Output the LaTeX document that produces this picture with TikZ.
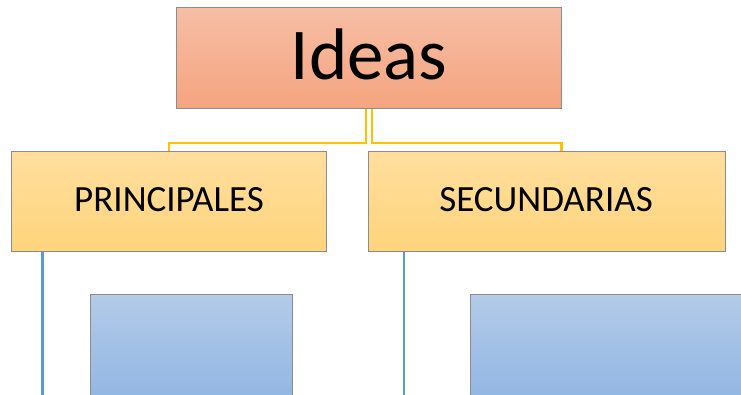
\documentclass[tikz,border=0pt]{standalone}
\usepackage{fontspec}
\setmainfont{Carlito}
\definecolor{idtop}{HTML}{F6BEA6}
\definecolor{idbot}{HTML}{F5A47F}
\definecolor{ytop}{HTML}{FFDE9E}
\definecolor{ybot}{HTML}{FED47C}
\definecolor{btop}{HTML}{B3CBE8}
\definecolor{bbot}{HTML}{8DB3E2}
\definecolor{conny}{HTML}{FFC000}
\definecolor{connb}{HTML}{5B9BD5}
\definecolor{edge}{HTML}{8C8C8C}
\tikzset{
  box/.style={draw=edge, line width=1pt, inner sep=0pt, anchor=north west},
  ideabox/.style={box, top color=idtop, bottom color=idbot, minimum width=385pt, minimum height=101pt},
  catbox/.style={box, top color=ytop, bottom color=ybot, minimum width=357pt, minimum height=100pt},
  subbox/.style={box, top color=btop, bottom color=bbot, minimum width=202pt, minimum height=120pt},
  bigtext/.style={font=\fontsize{73}{73}\selectfont, anchor=base, inner sep=0pt},
  cattext/.style={font=\fontsize{37}{37}\selectfont, anchor=base, inner sep=0pt},
  yline/.style={draw=conny, line width=2.6pt},
  bline/.style={draw=connb, line width=2.6pt},
}
\begin{document}
\begin{tikzpicture}[x=1pt,y=-1pt]
\useasboundingbox (0,0) rectangle (741,395);
\clip (0,0) rectangle (741,395);
\node[ideabox] (ideas) at (176,7) {};
\node[bigtext] (ideast) at (369,80) {Ideas};
\node[catbox, minimum width=315pt] (prin) at (11,151) {};
\node[cattext] (print) at (169,211.5) {PRINCIPALES};
\node[catbox] (sec) at (368,151) {};
\node[cattext] (sect) at (546,211.5) {SECUNDARIAS};
\node[subbox] (sub1) at (90,294) {};
\node[subbox, minimum width=300pt] (sub2) at (470,294) {};
\coordinate (c1) at (42.7,395);
\coordinate (c2) at (404,395);
\draw[yline] ([xshift=-3pt]ideas.south) -- ++(0,34) -| (prin.north);
\draw[yline] ([xshift=3pt]ideas.south) -- ++(0,34) -| ([xshift=14.5pt]sec.north);
\draw[bline] ([xshift=31.7pt]prin.south west) -- (c1);
\draw[bline] ([xshift=36pt]sec.south west) -- (c2);
\end{tikzpicture}
\end{document}
